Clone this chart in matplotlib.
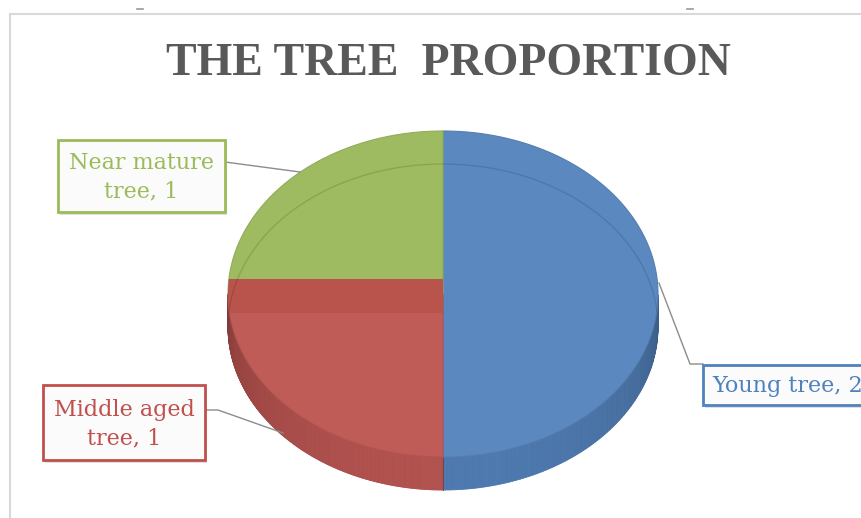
import numpy as np
import matplotlib
matplotlib.use('Agg')
import matplotlib.pyplot as plt
from matplotlib.patches import Polygon, Rectangle, Ellipse
from matplotlib.collections import PolyCollection
from matplotlib.colors import to_rgb

# ---- data ----
categories = ['Young tree', 'Middle aged tree', 'Near mature tree']
values = [2, 1, 1]
wrap_label = [False, True, True]
title = 'THE TREE  PROPORTION'

top_colors = ['#5B89BF', '#C05C58', '#9EBB61']
side_colors = ['#4C77AC', '#AE4F4C', '#87A24F']
label_colors = ['#4F81BD', '#C0504D', '#9BBB59']

W, H = 862, 518
fig = plt.figure(figsize=(W / 100, H / 100), dpi=100)
ax = fig.add_axes([0, 0, 1, 1])
ax.set_xlim(0, W)
ax.set_ylim(H, 0)
ax.axis('off')

# chart-area frame
ax.plot([10, 10], [H, 14], color='#d9d9d9', lw=1.5, zorder=0)
ax.plot([10, W], [14, 14], color='#d9d9d9', lw=1.5, zorder=0)
ax.plot([137, 143], [9, 9], color='#999999', lw=1.2)
ax.plot([687, 693], [9, 9], color='#999999', lw=1.2)

# pie geometry (layout)
cx, cy, rx, ry, depth = 443, 294, 215, 163, 33


def pt(theta, dy=0.0):
    t = np.radians(theta)
    return cx + rx * np.cos(t), cy - ry * np.sin(t) + dy


vals = np.array(values, float)
cum = np.concatenate([[0], np.cumsum(vals)]) / vals.sum()
starts = 90 - 360 * cum[:-1]
ends = 90 - 360 * cum[1:]

# side walls (front half only)
for s, e, col in zip(starts, ends, side_colors):
    th = np.linspace(s, e, 240)
    base = np.array(to_rgb(col))
    quads, cols = [], []
    for k in range(len(th) - 1):
        mid = 0.5 * (th[k] + th[k + 1])
        if np.sin(np.radians(th[k])) <= 1e-9 and np.sin(np.radians(th[k + 1])) <= 1e-9:
            x1, y1 = pt(th[k]); x2, y2 = pt(th[k + 1])
            quads.append([(x1, y1), (x2, y2), (x2, y2 + depth), (x1, y1 + depth)])
            f = 0.72 + 0.30 * (-np.sin(np.radians(mid))) ** 0.6
            cols.append(np.clip(base * f, 0, 1))
    if quads:
        pc = PolyCollection(quads, facecolors=cols, edgecolors=cols, linewidths=0.6, zorder=2)
        ax.add_collection(pc)

# slice boundary on the wall
for a in starts:
    if np.sin(np.radians(a)) < -0.99:
        x0, y0 = pt(a)
        ax.plot([x0, x0], [y0, y0 + depth], color='#6a4a55', lw=0.8, zorder=3)

# top faces
for s, e, col in zip(starts, ends, top_colors):
    th = np.linspace(s, e, 200)
    xs, ys = pt(th)
    poly = np.column_stack([np.r_[cx, xs], np.r_[cy, ys]])
    ax.add_patch(Polygon(poly, closed=True, facecolor=col,
                         edgecolor=np.clip(np.array(to_rgb(col)) * 0.92, 0, 1),
                         lw=0.8, zorder=4))

clip_ell = Ellipse((cx, cy), 2 * rx, 2 * ry, transform=ax.transData)

# darker band on the left split (perspective effect)
band = Rectangle((cx - rx - 3, cy - 15), rx + 3, 34, facecolor='#B8544B',
                 edgecolor='none', zorder=5)
ax.add_patch(band)
band.set_clip_path(clip_ell)

# faint back edge of the base seen through the top
thb = np.linspace(0, 180, 200)
bx, by = pt(thb, depth)
ln, = ax.plot(bx, by, color='#000000', alpha=0.12, lw=1.0, zorder=6)
ln.set_clip_path(clip_ell)

# title
ax.text(448, 64, title, ha='center', va='center', fontsize=33,
        fontweight='bold', family='Liberation Serif', color='#595959')

# labels
label_texts = []
for c, v, w in zip(categories, values, wrap_label):
    if w:
        a, b = c.rsplit(' ', 1)
        label_texts.append(f'{a}\n{b}, {v}')
    else:
        label_texts.append(f'{c}, {v}')

boxes = [(703, 365, 190, 40), (43, 385, 162, 75), (58, 140, 167, 72)]
text_pos = [(712, 386, 'left'), (124, 424, 'center'), (141.5, 177, 'center')]
leaders = [
    [(659, 283), (690, 364), (703, 364)],
    [(205, 410), (218, 410), (283, 433)],
    [(225, 162), (300, 172)],
]

for i in range(len(categories)):
    bx0, by0, bw, bh = boxes[i]
    ax.add_patch(Rectangle((bx0 + 2, by0 + 3), bw, bh, facecolor='#000000',
                           alpha=0.12, edgecolor='none', zorder=7))
    ax.add_patch(Rectangle((bx0, by0), bw, bh, facecolor='#fbfbfb',
                           edgecolor=label_colors[i], lw=2, zorder=8))
    tx, ty, ha = text_pos[i]
    ax.text(tx, ty, label_texts[i], ha=ha, va='center', fontsize=16,
            family='DejaVu Serif', color=label_colors[i], linespacing=1.35,
            zorder=9)
    lx, ly = zip(*leaders[i])
    ax.plot(lx, ly, color='#8c8c8c', lw=1.0, zorder=6)

fig.savefig('out.png', dpi=100)
